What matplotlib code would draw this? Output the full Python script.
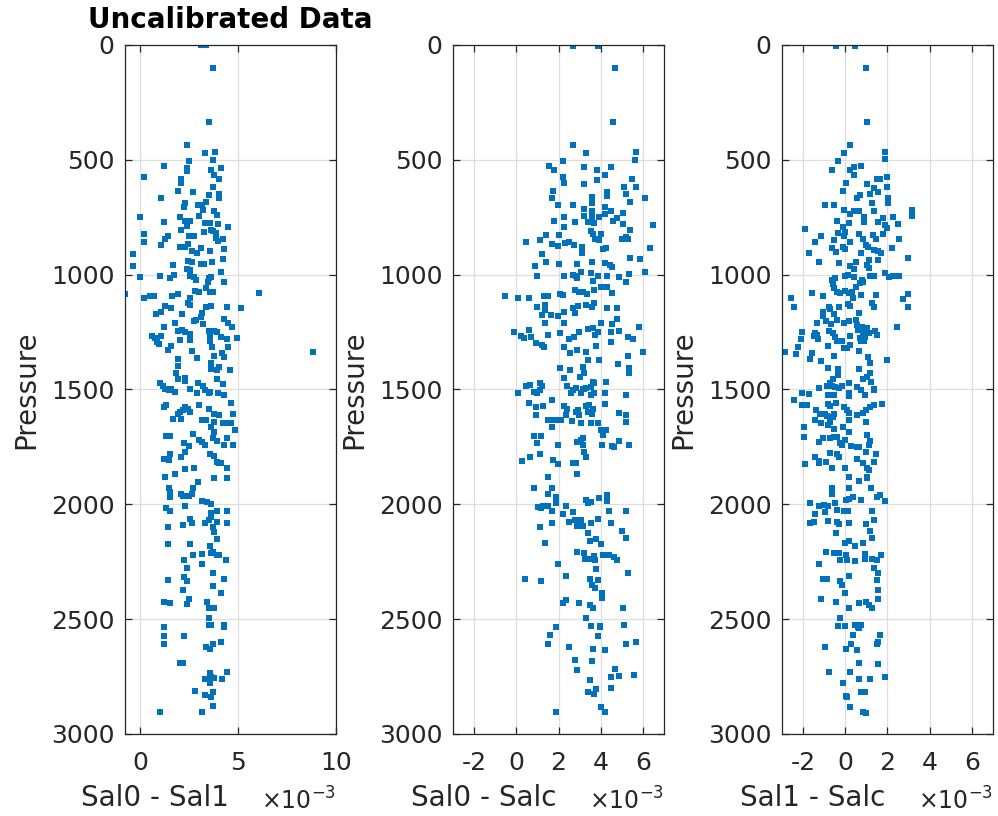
import numpy as np
import matplotlib
matplotlib.use("Agg")
import matplotlib.pyplot as plt

plt.rcParams["axes.unicode_minus"] = False

# (difference x 1e-3, pressure) pairs
sal0_sal1 = [
    (3.08, 0), (3.38, 0), (3.71, 99), (3.50, 334), (2.41, 435), (3.30, 472), (3.81, 466), (2.51, 505),
    (3.73, 501), (1.20, 525), (4.10, 534), (2.41, 537), (2.41, 547), (3.59, 544), (3.79, 566), (0.21, 573),
    (2.10, 583), (2.10, 602), (4.02, 585), (3.73, 620), (1.91, 634), (2.70, 641), (3.50, 653), (4.00, 650),
    (4.00, 667), (1.08, 667), (2.27, 689), (2.22, 704), (2.94, 696), (3.13, 696), (3.38, 685), (3.21, 718),
    (3.76, 723), (3.90, 740), (0.0, 747), (2.02, 750), (2.99, 743), (2.31, 766), (2.56, 765), (1.20, 769),
    (3.33, 776), (3.56, 776), (3.98, 781), (4.50, 794), (2.10, 805), (2.39, 788), (3.59, 805), (3.73, 810),
    (3.85, 817), (0.21, 824), (0.21, 856), (1.40, 831), (1.28, 846), (2.48, 831), (2.74, 830), (3.28, 815),
    (3.85, 842), (3.98, 853), (4.24, 845), (1.08, 871), (2.05, 878), (2.31, 878), (2.43, 868), (2.62, 897),
    (2.91, 904), (3.56, 895), (3.08, 882), (4.27, 888), (-0.39, 910), (-0.39, 962), (2.43, 939), (2.65, 946),
    (3.08, 953), (3.25, 953), (3.68, 946), (4.24, 933), (1.68, 958), (2.39, 975), (2.56, 979), (0.0, 1011),
    (1.03, 1008), (1.50, 1016), (1.71, 1001), (2.53, 1004), (2.74, 1011), (2.87, 1023), (3.50, 1016),
    (3.62, 1011), (3.45, 1034), (4.15, 987), (4.30, 1030), (-0.78, 1085), (6.07, 1081), (0.21, 1100),
    (0.51, 1091), (0.68, 1091), (1.62, 1091), (1.91, 1085), (2.82, 1071), (2.99, 1074), (3.38, 1059),
    (3.56, 1074), (3.73, 1074), (2.56, 1103), (4.41, 1139), (5.16, 1146), (1.28, 1135), (1.59, 1146),
    (0.82, 1172), (1.06, 1161), (2.14, 1172), (2.43, 1122), (2.53, 1132), (3.38, 1139), (3.59, 1135),
    (3.16, 1168), (3.08, 1185), (2.74, 1204), (2.87, 1197), (3.21, 1216), (4.30, 1194), (4.50, 1212),
    (4.70, 1230), (1.23, 1230), (1.79, 1212), (1.93, 1245), (2.14, 1241), (2.31, 1249), (2.56, 1259),
    (3.50, 1245), (3.76, 1245), (3.90, 1251), (0.60, 1267), (0.77, 1277), (0.85, 1294), (0.97, 1302),
    (1.08, 1265), (2.02, 1284), (2.53, 1284), (3.56, 1262), (3.56, 1291), (3.68, 1313), (4.14, 1270),
    (4.44, 1280), (4.96, 1277), (4.50, 1313), (8.80, 1335), (1.59, 1310), (1.40, 1328), (2.62, 1331),
    (1.91, 1368), (1.91, 1397), (2.91, 1364), (3.79, 1354), (4.19, 1342), (4.27, 1359), (3.59, 1386),
    (3.59, 1412), (4.02, 1403), (4.58, 1415), (1.85, 1429), (1.91, 1454), (2.31, 1451), (2.31, 1463),
    (3.93, 1415), (3.93, 1456), (0.99, 1470), (1.16, 1484), (2.94, 1470), (3.21, 1484), (4.24, 1476),
    (1.28, 1496), (1.45, 1503), (1.59, 1496), (1.79, 1510), (2.53, 1500), (2.91, 1515), (3.33, 1503),
    (3.50, 1517), (3.56, 1510), (3.98, 1515), (4.27, 1525), (1.33, 1568), (1.23, 1575), (1.91, 1605),
    (2.02, 1597), (2.19, 1590), (2.31, 1578), (2.45, 1587), (2.56, 1597), (2.09, 1630), (1.68, 1630),
    (2.99, 1568), (3.50, 1587), (3.76, 1605), (3.79, 1641), (4.02, 1612), (3.16, 1634), (3.38, 1634),
    (4.24, 1645), (4.36, 1648), (4.62, 1645), (4.62, 1561), (4.75, 1605), (4.82, 1677), (3.59, 1663),
    (3.76, 1684), (1.33, 1703), (1.50, 1703), (2.22, 1732), (2.70, 1696), (2.99, 1718), (3.16, 1728),
    (3.33, 1742), (3.73, 1713), (3.90, 1723), (4.41, 1710), (4.75, 1742), (4.27, 1742), (1.20, 1803),
    (1.49, 1808), (1.50, 1781), (2.48, 1747), (2.09, 1793), (2.31, 1771), (3.56, 1781), (3.76, 1790),
    (3.90, 1815), (4.02, 1819), (4.10, 1818), (4.41, 1840), (1.28, 1880), (1.79, 1869), (2.31, 1848),
    (2.74, 1844), (2.94, 1902), (3.79, 1887), (4.41, 1887), (1.45, 1927), (1.50, 1945), (2.70, 1931),
    (1.50, 1970), (2.09, 1953), (2.19, 1964), (2.48, 1964), (2.62, 1955), (3.16, 1985), (3.42, 1988),
    (3.62, 2000), (1.33, 2018), (1.54, 2028), (2.26, 2008), (3.59, 2036), (3.59, 2054), (3.93, 2028),
    (4.41, 2028), (4.41, 2080), (2.19, 2090), (2.53, 2065), (2.62, 2083), (3.30, 2083), (3.50, 2068),
    (3.73, 2097), (3.90, 2076), (1.40, 2097), (1.40, 2173), (2.56, 2173), (3.56, 2182), (3.76, 2120),
    (3.90, 2153), (3.73, 2207), (3.90, 2221), (4.02, 2221), (3.59, 2214), (3.13, 2217), (2.70, 2221),
    (2.22, 2243), (4.36, 2243), (3.16, 2260), (2.39, 2279), (3.73, 2298), (1.40, 2330), (2.39, 2333),
    (2.22, 2316), (4.30, 2326), (3.73, 2355), (2.19, 2371), (4.10, 2384), (1.23, 2424), (1.50, 2431),
    (2.48, 2413), (2.39, 2435), (3.42, 2424), (3.50, 2450), (3.76, 2450), (3.50, 2497), (3.50, 2526),
    (3.62, 2526), (4.30, 2526), (4.30, 2536), (1.23, 2536), (1.23, 2572), (1.23, 2610), (2.22, 2572),
    (3.38, 2620), (3.56, 2631), (3.73, 2610), (4.10, 2598), (2.05, 2693), (2.17, 2693), (3.56, 2733),
    (3.62, 2751), (3.76, 2755), (3.33, 2762), (3.56, 2780), (4.19, 2762), (4.41, 2729), (2.79, 2813),
    (3.30, 2830), (3.59, 2838), (3.73, 2816), (3.73, 2878), (1.03, 2906), (3.16, 2906),
]

sal0_salc = [
    (2.67, 3), (3.88, 3), (4.67, 102), (4.56, 334), (2.70, 435), (3.30, 472), (5.69, 464), (5.61, 501),
    (2.20, 505), (1.57, 527), (1.78, 544), (3.19, 530), (4.51, 533), (3.81, 544), (3.81, 588), (4.20, 566),
    (2.20, 573), (2.28, 602), (3.19, 607), (5.46, 585), (5.69, 617), (5.11, 620), (5.19, 649), (1.76, 634),
    (1.70, 665), (4.29, 641), (4.29, 657), (3.58, 663), (3.58, 686), (6.08, 665), (5.39, 683), (1.98, 696),
    (2.70, 696), (3.19, 715), (3.22, 743), (3.58, 723), (3.58, 747), (4.20, 704), (4.20, 736), (4.51, 723),
    (4.56, 765), (5.08, 730), (5.08, 779), (4.75, 752), (2.28, 750), (1.78, 765), (2.78, 769), (3.38, 772),
    (3.69, 773), (3.90, 747), (6.49, 786), (2.28, 791), (3.52, 808), (3.62, 823), (3.74, 846), (4.02, 823),
    (3.91, 849), (4.99, 846), (5.19, 837), (5.31, 846), (5.39, 805), (1.42, 827), (2.01, 827), (1.10, 849),
    (0.47, 856), (1.70, 866), (1.97, 875), (2.33, 863), (2.48, 859), (2.72, 871), (3.10, 878), (3.10, 904),
    (4.09, 888), (4.25, 885), (6.32, 885), (1.23, 910), (1.42, 946), (2.01, 953), (2.88, 953), (3.58, 943),
    (4.20, 948), (4.43, 958), (4.53, 968), (5.39, 929), (5.86, 933), (6.08, 990), (0.90, 962), (0.98, 1008),
    (2.28, 1008), (2.70, 1001), (2.83, 1008), (2.88, 1016), (3.07, 987), (3.52, 994), (3.62, 1026),
    (3.85, 1008), (4.28, 1004), (4.87, 1011), (5.19, 1030), (5.36, 998), (-0.52, 1091), (0.08, 1103),
    (0.58, 1100), (1.31, 1091), (1.49, 1091), (2.09, 1084), (2.20, 1088), (2.78, 1069), (2.96, 1074),
    (3.14, 1074), (3.35, 1085), (3.66, 1067), (4.01, 1052), (4.28, 1055), (4.53, 1078), (0.98, 1143),
    (1.38, 1132), (1.34, 1156), (1.21, 1175), (1.65, 1175), (1.97, 1180), (2.28, 1161), (2.28, 1209),
    (2.70, 1146), (2.78, 1165), (2.91, 1136), (3.30, 1132), (3.58, 1139), (3.66, 1125), (4.28, 1146),
    (4.75, 1146), (4.75, 1193), (1.38, 1212), (-0.11, 1248), (0.20, 1267), (0.36, 1277), (0.60, 1241),
    (0.71, 1273), (0.91, 1296), (1.29, 1313), (1.21, 1306), (1.49, 1262), (2.09, 1255), (2.28, 1313),
    (2.48, 1280), (2.75, 1273), (2.96, 1248), (3.38, 1238), (3.62, 1233), (3.74, 1262), (3.85, 1248),
    (4.01, 1209), (3.77, 1310), (4.48, 1248), (4.48, 1294), (4.53, 1214), (4.87, 1244), (5.30, 1273),
    (5.53, 1281), (5.82, 1226), (6.01, 1335), (2.56, 1342), (2.88, 1328), (3.30, 1335), (3.38, 1371),
    (3.90, 1371), (4.80, 1389), (5.31, 1354), (5.33, 1408), (5.33, 1429), (2.09, 1405), (2.56, 1415),
    (3.14, 1403), (3.22, 1429), (3.02, 1444), (2.28, 1451), (3.62, 1466), (3.69, 1473), (4.25, 1466),
    (0.47, 1484), (0.63, 1480), (1.10, 1473), (1.21, 1484), (2.41, 1484), (2.83, 1494), (3.14, 1499),
    (3.30, 1494), (3.54, 1490), (0.08, 1517), (0.86, 1510), (0.97, 1517), (1.10, 1503), (0.58, 1561),
    (0.94, 1575), (0.94, 1609), (1.26, 1573), (1.70, 1544), (1.49, 1631), (1.72, 1634), (1.97, 1634),
    (2.12, 1631), (1.70, 1663), (2.28, 1573), (2.36, 1609), (2.41, 1583), (2.59, 1517), (2.67, 1503),
    (2.63, 1637), (2.83, 1600), (2.91, 1590), (2.99, 1612), (3.07, 1517), (3.19, 1500), (3.07, 1648),
    (3.30, 1573), (3.46, 1568), (3.62, 1583), (3.57, 1605), (3.54, 1648), (3.38, 1597), (3.54, 1525),
    (3.66, 1517), (4.20, 1517), (4.20, 1565), (3.88, 1645), (4.01, 1677), (4.09, 1699), (4.25, 1677),
    (5.19, 1525), (4.87, 1602), (5.19, 1612), (5.19, 1641), (5.35, 1742), (4.87, 1723), (4.53, 1746),
    (4.61, 1749), (4.04, 1742), (2.88, 1728), (3.07, 1718), (3.14, 1713), (3.14, 1742), (3.22, 1771),
    (3.30, 1793), (2.67, 1819), (2.83, 1819), (2.88, 1866), (1.97, 1742), (1.97, 1825), (1.76, 1805),
    (0.86, 1703), (1.18, 1703), (0.97, 1732), (1.10, 1781), (0.66, 1796), (0.27, 1810), (1.49, 1880),
    (0.86, 1927), (1.70, 1927), (1.49, 1956), (1.88, 1970), (1.02, 2011), (1.18, 2018), (1.26, 2008),
    (1.49, 2008), (1.70, 2028), (1.70, 2080), (1.88, 1996), (2.36, 2008), (2.20, 2044), (2.48, 2076),
    (2.70, 2033), (2.78, 2070), (2.88, 2093), (3.07, 2068), (3.17, 2093), (3.30, 1982), (3.38, 1993),
    (3.54, 1990), (3.54, 2080), (3.38, 2124), (3.85, 2065), (3.93, 1974), (4.28, 1959), (4.28, 1985),
    (4.39, 2030), (4.47, 2080), (4.99, 2115), (5.19, 2148), (5.19, 2030), (1.10, 2098), (1.38, 2170),
    (3.51, 2160), (3.77, 2150), (4.01, 2172), (2.88, 2207), (3.19, 2211), (3.25, 2240), (3.51, 2240),
    (3.69, 2225), (3.72, 2243), (4.09, 2221), (4.40, 2221), (4.61, 2228), (4.75, 2243), (1.97, 2262),
    (3.77, 2282), (5.30, 2297), (0.39, 2323), (1.18, 2334), (2.36, 2313), (3.51, 2326), (3.88, 2330),
    (3.58, 2352), (3.72, 2366), (4.06, 2384), (4.07, 2410), (2.20, 2429), (2.36, 2417), (2.99, 2429),
    (3.51, 2439), (3.62, 2453), (5.08, 2450), (3.30, 2494), (3.54, 2529), (3.96, 2529), (3.96, 2536),
    (5.11, 2526), (1.89, 2536), (1.60, 2569), (1.49, 2610), (3.88, 2572), (2.48, 2623), (3.65, 2631),
    (4.20, 2633), (5.19, 2610), (5.69, 2601), (2.78, 2676), (2.88, 2720), (3.58, 2682), (4.67, 2716),
    (4.48, 2752), (4.87, 2749), (5.58, 2744), (3.51, 2767), (3.38, 2817), (3.69, 2825), (3.77, 2803),
    (4.48, 2801), (4.01, 2881), (4.20, 2906), (1.89, 2906),
]

sal1_salc = [
    (-0.44, 3), (0.44, 3), (0.97, 102), (1.05, 334), (0.24, 435), (-0.05, 472), (1.86, 464), (1.86, 498),
    (-0.35, 505), (-0.63, 544), (0.39, 530), (0.20, 544), (0.39, 566), (0.75, 527), (0.05, 602),
    (-0.13, 634), (1.05, 605), (1.49, 585), (1.65, 585), (1.97, 573), (1.97, 617), (2.01, 667), (2.01, 689),
    (1.37, 621), (1.57, 641), (1.18, 650), (1.26, 686), (0.55, 667), (0.71, 653), (-0.94, 696), (-0.55, 696),
    (-0.05, 718), (0.20, 737), (0.39, 725), (0.66, 723), (-0.39, 765), (0.16, 776), (1.38, 725), (0.90, 750),
    (0.90, 772), (1.57, 769), (1.81, 755), (1.89, 786), (1.97, 798), (2.28, 750), (2.48, 781), (3.18, 718),
    (3.18, 744), (-1.93, 801), (-1.15, 831), (-1.42, 859), (-0.13, 791), (-0.03, 813), (-0.08, 831),
    (-0.35, 820), (-0.55, 849), (-0.63, 885), (-0.44, 900), (-0.13, 878), (-0.03, 890), (0.24, 859),
    (0.66, 823), (0.82, 846), (0.97, 871), (1.07, 878), (1.29, 827), (1.45, 846), (1.80, 823), (1.34, 892),
    (1.57, 897), (1.70, 907), (2.20, 885), (2.56, 846), (2.95, 929), (-1.73, 907), (-1.23, 946),
    (-0.31, 950), (0.24, 962), (0.39, 975), (0.50, 946), (0.75, 907), (1.02, 958), (1.10, 972), (1.18, 1008),
    (1.38, 1008), (1.54, 936), (1.10, 936), (1.86, 994), (2.09, 1011), (2.28, 1008), (2.56, 1004),
    (-0.63, 1023), (-0.58, 1040), (-0.47, 1016), (-0.03, 1006), (0.11, 1001), (0.39, 1011), (0.50, 1052),
    (0.71, 1035), (0.79, 1023), (0.86, 1030), (0.31, 1074), (-0.39, 1074), (-0.27, 1078), (-0.03, 1071),
    (0.16, 1081), (-0.55, 1059), (-2.55, 1103), (-2.44, 1143), (-1.57, 1081), (-1.05, 1091), (0.35, 1103),
    (0.75, 1088), (1.45, 1088), (1.26, 1122), (1.38, 1139), (2.75, 1107), (2.95, 1085), (2.95, 1139),
    (-0.31, 1139), (-0.79, 1139), (-0.71, 1151), (-1.04, 1161), (-1.07, 1180), (-0.55, 1172), (0.11, 1129),
    (0.24, 1136), (0.66, 1168), (0.50, 1197), (-0.08, 1212), (0.16, 1204), (-1.34, 1212), (-0.91, 1204),
    (-0.66, 1214), (-0.39, 1197), (0.55, 1219), (0.79, 1226), (1.02, 1233), (2.47, 1230), (-2.04, 1248),
    (-2.09, 1281), (-1.45, 1252), (-1.49, 1265), (-1.29, 1280), (-1.34, 1262), (-0.79, 1245), (-0.58, 1255),
    (-0.47, 1270), (-0.39, 1291), (0.20, 1267), (0.60, 1243), (0.83, 1255), (0.94, 1270), (0.90, 1291),
    (1.42, 1245), (1.49, 1262), (1.10, 1255), (0.71, 1277), (0.75, 1291), (-0.82, 1310), (-0.16, 1291),
    (-0.08, 1320), (0.08, 1320), (0.24, 1306), (-2.25, 1313), (-2.36, 1345), (-2.86, 1335), (-1.57, 1342),
    (-1.65, 1367), (-1.15, 1376), (-0.55, 1354), (0.66, 1331), (1.07, 1359), (1.18, 1386), (1.97, 1371),
    (-0.83, 1408), (-0.35, 1410), (-0.35, 1436), (0.66, 1412), (1.18, 1429), (1.23, 1466), (-0.60, 1455),
    (-0.71, 1473), (0.16, 1473), (0.86, 1455), (1.02, 1444), (-1.23, 1494), (-0.86, 1487), (-0.63, 1487),
    (-0.47, 1490), (-0.31, 1494), (-0.16, 1487), (0.55, 1490), (1.34, 1499), (-2.04, 1517), (-1.73, 1520),
    (-0.82, 1522), (-0.55, 1525), (0.16, 1517), (0.16, 1529), (0.75, 1503), (0.94, 1525), (1.38, 1503),
    (-2.44, 1544), (-2.04, 1568), (-1.81, 1568), (-0.82, 1564), (-0.74, 1573), (-0.42, 1561), (-1.37, 1590),
    (-1.21, 1605), (-1.42, 1631), (-1.15, 1648), (-0.97, 1605), (-0.86, 1616), (-0.71, 1641), (-0.60, 1622),
    (-0.82, 1655), (-0.55, 1607), (-0.08, 1575), (0.08, 1590), (0.16, 1602), (0.16, 1634), (0.55, 1612),
    (0.86, 1602), (0.97, 1590), (1.18, 1575), (1.38, 1568), (1.76, 1565), (0.97, 1641), (-1.96, 1665),
    (-1.96, 1709), (-1.26, 1728), (-1.07, 1713), (-0.71, 1713), (-0.55, 1706), (-0.39, 1709), (-0.27, 1732),
    (-0.16, 1742), (0.0, 1718), (-0.55, 1674), (-0.13, 1663), (0.16, 1686), (0.28, 1744), (0.55, 1749),
    (0.66, 1749), (1.05, 1699), (1.18, 1725), (1.10, 1742), (0.97, 1771), (-1.92, 1825), (-1.42, 1793),
    (-1.26, 1810), (-1.26, 1822), (-0.91, 1815), (-0.74, 1778), (-0.63, 1840), (-0.39, 1781), (-0.31, 1796),
    (-0.03, 1840), (0.16, 1880), (0.16, 1927), (0.55, 1803), (0.66, 1899), (0.86, 1822), (1.02, 1844),
    (1.10, 1851), (1.05, 1880), (1.02, 1887), (1.38, 1815), (1.45, 1781), (1.23, 1931), (-0.63, 1931),
    (-0.63, 1953), (0.03, 1982), (0.16, 1979), (0.35, 1970), (0.75, 1982), (1.65, 1960), (1.49, 1970),
    (1.86, 1985), (-1.65, 1996), (-1.26, 2008), (-1.02, 2003), (-0.82, 2008), (-1.45, 2043), (-1.65, 2080),
    (-1.49, 2076), (-0.94, 2033), (-0.82, 2072), (-0.47, 1996), (-0.39, 2025), (-0.39, 2076), (-0.31, 2086),
    (-0.42, 2124), (-0.08, 2028), (0.11, 2028), (0.16, 2080), (1.26, 2028), (1.38, 2068), (0.97, 2086),
    (1.18, 2115), (1.26, 2148), (-0.03, 2170), (0.16, 2160), (0.44, 2181), (0.86, 2170), (-0.91, 2207),
    (-0.55, 2211), (-0.31, 2211), (-0.24, 2243), (0.05, 2221), (0.08, 2243), (0.44, 2246), (0.91, 2217),
    (0.94, 2239), (1.26, 2240), (1.49, 2243), (1.70, 2221), (-1.23, 2260), (1.38, 2279), (1.57, 2298),
    (-1.07, 2323), (-0.86, 2326), (-0.27, 2334), (-0.16, 2352), (0.16, 2313), (1.49, 2330), (1.54, 2371),
    (-0.03, 2384), (-1.15, 2413), (-0.42, 2427), (0.16, 2450), (0.66, 2431), (0.97, 2427), (1.10, 2439),
    (1.26, 2450), (1.54, 2413), (-0.24, 2497), (-0.35, 2530), (-0.03, 2529), (0.44, 2526), (0.60, 2533),
    (0.75, 2526), (0.66, 2540), (0.36, 2569), (0.28, 2610), (0.05, 2632), (1.65, 2569), (1.54, 2598),
    (1.49, 2610), (-0.94, 2623), (0.55, 2635), (0.63, 2690), (1.54, 2696), (-0.75, 2732), (0.24, 2729),
    (-0.13, 2780), (0.66, 2762), (1.18, 2762), (1.86, 2751), (0.75, 2816), (0.94, 2816), (0.05, 2833),
    (0.08, 2838), (0.24, 2881), (0.86, 2906), (0.97, 2907),
]

xlabels = ["Sal0 - Sal1", "Sal0 - Salc", "Sal1 - Salc"]
xlims = [(-0.78, 10), (-3, 7), (-3, 7)]
xticks = [[0, 5, 10], [-2, 0, 2, 4, 6], [-2, 0, 2, 4, 6]]
yticks = [0, 500, 1000, 1500, 2000, 2500, 3000]

blue = "#0072BD"
dark = "#262626"

fig = plt.figure(figsize=(9.98, 8.16), dpi=100)
lefts = [125 / 998, 453 / 998, 782 / 998]

for i, data in enumerate([sal0_sal1, sal0_salc, sal1_salc]):
    x, p = np.array(data).T
    ax = fig.add_axes([lefts[i], 0.1005, 211 / 998, 0.8444])
    ax.plot(x, p, ls="none", marker="s", ms=3.7, mew=0, color=blue)
    ax.set_xlim(*xlims[i])
    ax.set_ylim(3000, 0)
    ax.set_xticks(xticks[i])
    ax.set_yticks(yticks)
    ax.grid(True, color="#dedede", lw=0.9)
    ax.set_axisbelow(True)
    ax.tick_params(direction="in", top=True, right=True, length=5, width=0.9,
                   labelsize=18, colors=dark)
    ax.tick_params(axis="x", pad=12)
    ax.tick_params(axis="y", pad=7.5)
    for s in ax.spines.values():
        s.set_color(dark)
        s.set_linewidth(0.9)
    ax.set_xlabel(xlabels[i], fontsize=20, color=dark, ha="right")
    ax.xaxis.set_label_coords(0.492, -0.0726)
    ax.set_ylabel("Pressure", fontsize=20, color=dark)
    ax.yaxis.set_label_coords(-0.40, 0.5)
    # exponent label, MATLAB style
    ax.text(1.0, -0.077, r"$\times10^{-3}$", transform=ax.transAxes,
            ha="right", va="top", fontsize=17, color=dark)
    if i == 0:
        ax.set_title("Uncalibrated Data", fontsize=20, fontweight="bold", pad=12)

fig.savefig("out.png", dpi=100)
